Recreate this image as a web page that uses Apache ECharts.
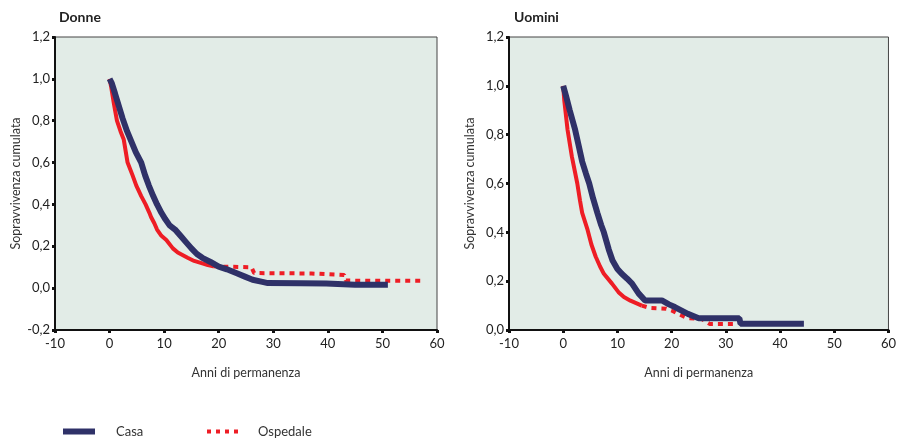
<!DOCTYPE html>
<html>
<head>
<meta charset="utf-8">
<script src="https://cdn.jsdelivr.net/npm/echarts@6/dist/echarts.min.js"></script>
<style>
html,body{margin:0;padding:0;background:#fff;}
#chart{width:899px;height:441px;}
</style>
</head>
<body>
<div id="chart"></div>
<script>
// Data: [anni, sopravvivenza]
var donneCasa = [
  [0,1.0],[0.4,0.98],[1,0.93],[1.7,0.87],[2.4,0.81],[3.2,0.75],[4,0.70],[4.8,0.65],[5.8,0.60],
  [6.5,0.54],[7.2,0.49],[8,0.44],[8.7,0.40],[9.5,0.36],[10.2,0.33],[11,0.30],[12,0.28],[13,0.25],
  [14,0.22],[15,0.19],[16,0.163],[17,0.145],[18.5,0.125],[20,0.103],[21.5,0.09],[23.2,0.072],
  [24.8,0.055],[26.2,0.04],[28,0.03],[29,0.024],[35,0.023],[39.7,0.022],[40,0.017],[45,0.016],[51,0.016]
];
var donneOspedale = [
  [0,1.0],[0.3,0.96],[0.8,0.88],[1.35,0.80],[2,0.75],[2.6,0.71],[3.3,0.60],[4.2,0.54],[4.9,0.49],
  [5.8,0.44],[6.6,0.40],[7.3,0.36],[7.6,0.34],[8.2,0.31],[8.7,0.28],[9.5,0.25],[10.4,0.23],[11.6,0.19],
  [12.5,0.17],[14.3,0.145],[15.5,0.13],[17,0.118],[18,0.11],[19,0.105],[20,0.103],[26,0.1],
  [26.5,0.072],[37,0.07],[37.3,0.065],[43,0.063],[43.3,0.036],[57,0.035]
];
var uominiCasa = [
  [0,1.0],[0.5,0.96],[1.2,0.9],[2.2,0.82],[2.8,0.76],[3.5,0.69],[4.2,0.64],[4.8,0.6],[5.5,0.54],
  [6.3,0.48],[7,0.43],[7.5,0.4],[8.4,0.33],[9.1,0.285],[10,0.25],[10.8,0.23],[11.8,0.21],[12.7,0.19],
  [13.9,0.15],[15.1,0.121],[18.2,0.121],[19.5,0.105],[20.6,0.094],[23,0.066],[25,0.048],[32.5,0.048],
  [32.7,0.026],[44.4,0.026]
];
var uominiOspedale = [
  [0,1.0],[0.2,0.94],[0.8,0.82],[1.6,0.71],[2.6,0.6],[3.1,0.53],[3.5,0.48],[4.5,0.41],[5.2,0.35],
  [6,0.3],[6.8,0.26],[7.5,0.23],[9,0.19],[10.2,0.155],[11.2,0.135],[12.4,0.12],[14.5,0.1],[16,0.09],
  [19,0.087],[20,0.08],[21.2,0.066],[23,0.048],[25.5,0.046],[27,0.025],[32,0.025]
];
var titles = ['Donne', 'Uomini'];
var seriesNames = ['Casa', 'Ospedale'];
var xAxisName = 'Anni di permanenza';
var yAxisName = 'Sopravvivenza cumulata';

var NAVY = '#2f3168', RED = '#ee1d25';
var FONT = 'Lato, "Open Sans", sans-serif';

function upTo(arr, t) { return arr.filter(function (p) { return p[0] <= t; }); }
function from(arr, t) { return arr.filter(function (p) { return p[0] >= t; }); }
function fmtY(v) { return (Math.round(v * 10) / 10).toFixed(1).replace('.', ','); }

var grids = [
  { left: 55, right: 462, top: 37, bottom: 111 },
  { left: 509, right: 7, top: 37, bottom: 111 }
];
var yRanges = [[-0.2, 1.2], [0, 1.2]];

var option = {
  animation: false,
  backgroundColor: '#fff',
  title: titles.map(function (t, i) {
    return { text: t, left: i === 0 ? 54 : 509, top: 5,
      textStyle: { fontFamily: FONT, fontWeight: 'bold', fontSize: 14, color: '#222' } };
  }),
  grid: grids.map(function (g) {
    return Object.assign({ show: true, backgroundColor: '#e2ece7', borderColor: '#444', borderWidth: 1 }, g);
  }),
  xAxis: [0, 1].map(function (i) {
    return {
      type: 'value', gridIndex: i, min: -10, max: 60, interval: 10,
      name: xAxisName, nameLocation: 'middle', nameGap: 36,
      nameTextStyle: { fontFamily: FONT, fontSize: 12.5, color: '#333' },
      axisLine: { show: true, onZero: false, lineStyle: { color: '#111', width: 2 } },
      axisTick: { show: true, length: 3, lineStyle: { color: '#111', width: 3 } },
      axisLabel: { fontFamily: FONT, fontSize: 13, color: '#222', margin: 7 },
      splitLine: { show: false }
    };
  }),
  yAxis: [0, 1].map(function (i) {
    return {
      type: 'value', gridIndex: i, min: yRanges[i][0], max: yRanges[i][1], interval: 0.2,
      name: yAxisName, nameLocation: 'middle', nameGap: 33,
      nameTextStyle: { fontFamily: FONT, fontSize: 12.5, color: '#333' },
      axisLine: { show: true, onZero: false, lineStyle: { color: '#111', width: 2 } },
      axisTick: { show: true, length: 3, lineStyle: { color: '#111', width: 3 } },
      axisLabel: { fontFamily: FONT, fontSize: 13, color: '#222', margin: 5, formatter: fmtY },
      splitLine: { show: false }
    };
  }),
  legend: [
    { left: 63, top: 425, padding: 0, itemWidth: 32, itemHeight: 6, icon: 'rect',
      data: [{ name: seriesNames[0], itemStyle: { color: NAVY } }],
      textStyle: { fontFamily: FONT, fontSize: 13, color: '#333', padding: [0, 0, 0, 16] } },
    { left: 207, top: 425, padding: 0, itemWidth: 31, itemHeight: 5,
      icon: 'path://M0,0h4v4h-4z M9,0h4v4h-4z M18,0h4v4h-4z M27,0h4v4h-4z',
      data: [{ name: seriesNames[1], itemStyle: { color: RED } }],
      textStyle: { fontFamily: FONT, fontSize: 13, color: '#333', padding: [0, 0, 0, 15] } }
  ],
  series: []
};

var sets = [
  { casa: donneCasa, osp: donneOspedale, split: 19 },
  { casa: uominiCasa, osp: uominiOspedale, split: 14.5 }
];
sets.forEach(function (s, i) {
  option.series.push({
    name: seriesNames[1], type: 'line', xAxisIndex: i, yAxisIndex: i, symbol: 'none',
    data: upTo(s.osp, s.split), z: 2,
    lineStyle: { color: RED, width: 4 }, itemStyle: { color: RED }
  });
  option.series.push({
    name: seriesNames[1], type: 'line', xAxisIndex: i, yAxisIndex: i, symbol: 'none',
    data: from(s.osp, s.split), z: 2,
    lineStyle: { color: RED, width: 4, type: [5, 5] }, itemStyle: { color: RED }
  });
  option.series.push({
    name: seriesNames[0], type: 'line', xAxisIndex: i, yAxisIndex: i, symbol: 'none',
    data: s.casa, z: 3,
    lineStyle: { color: NAVY, width: 6 }, itemStyle: { color: NAVY }
  });
});

var chart = echarts.init(document.getElementById('chart'), null, { renderer: 'canvas' });
chart.setOption(option);
</script>
</body>
</html>
